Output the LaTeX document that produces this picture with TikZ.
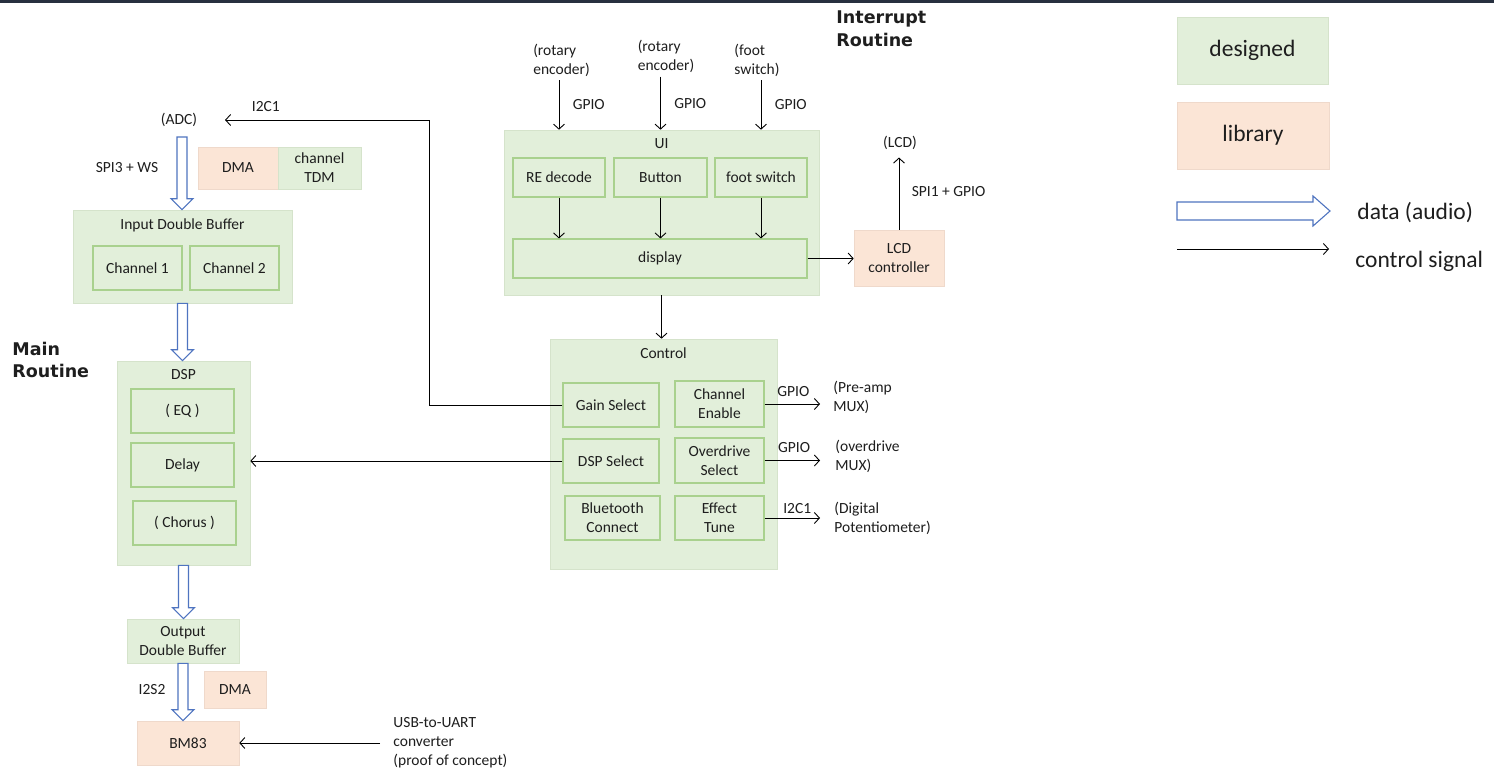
\documentclass[tikz,border=0pt]{standalone}
\usepackage{fontspec}
\setmainfont{Carlito}
\newfontfamily\headfont{DejaVu Sans}
\usetikzlibrary{arrows.meta,positioning,calc}
\definecolor{greenF}{HTML}{E2EFDA}
\definecolor{greenB}{HTML}{A9D18E}
\definecolor{greenO}{HTML}{D5E3CB}
\definecolor{peachF}{HTML}{FBE5D6}
\definecolor{peachB}{HTML}{EFD9CB}
\definecolor{dataBlue}{HTML}{4F74C0}
\definecolor{topbar}{HTML}{27303F}
\definecolor{ink}{HTML}{1E1E1E}

\newcommand{\audioflow}[2]{%
  \path[audio] let \p1=(#1), \p2=(#2) in
    (\x1-5pt,\y1) -- (\x1+5pt,\y1) -- (\x1+5pt,\y2+11pt) -- (\x1+11pt,\y2+11pt)
    -- (\x1,\y2) -- (\x1-11pt,\y2+11pt) -- (\x1-5pt,\y2+11pt) -- cycle;}

\begin{document}
\begin{tikzpicture}[->,auto,x=1pt,y=-1pt,line width=0.9pt,
  >={Straight Barb[length=5pt,width=11pt]},
  font=\fontsize{15.5}{19}\selectfont,text=ink,
  wh/.style 2 args={minimum width=#1pt,minimum height=#2pt},
  box/.style={fill=greenF,draw=greenO,line width=0.6pt,inner sep=0pt,align=center},
  part/.style={fill=greenF,draw=greenB,line width=1.1pt,inner sep=0pt,align=center},
  lib/.style={fill=peachF,draw=peachB,line width=0.6pt,inner sep=0pt,align=center},
  boxtitle/.style={label={[anchor=north,yshift=-5pt]north:#1}},
  routine/.style={font=\headfont\bfseries\fontsize{17.5}{22.5}\selectfont,align=left,anchor=west,inner sep=0pt},
  note/.style={align=left,anchor=west,inner sep=0pt},
  legendtext/.style={font=\fontsize{23.5}{28}\selectfont},
  audio/.style={arrows=-,draw=dataBlue,fill=white,line width=1.1pt,line join=miter}]

  \useasboundingbox (0,0) rectangle (1494,771);
  \fill[white] (0,0) rectangle (1494,771);
  \fill[topbar] (0,0) rectangle (1494,2.5);

  \node                                    (adc)    at (179,120)     {(ADC)};
  \node                                    (spi3)   at (127,168)     {SPI3 + WS};
  \node[lib,wh={80}{42}]                   (dma1)   at (238,168)     {DMA};
  \node[box,wh={83}{42}]                   (tdm)    at (319.5,168)   {channel\\TDM};
  \node[box,wh={219}{93},boxtitle=Input Double Buffer] (ibuf) at (182.5,256.5) {};
  \node[part,wh={89}{44}]                  (ch1)    at (137.5,268)   {Channel 1};
  \node[part,wh={89}{44}]                  (ch2)    at (234.5,268)   {Channel 2};
  \node[routine]                           (mainr)  at (12,360)      {Main\\Routine};
  \node[box,wh={133}{204},boxtitle=DSP]    (dsp)    at (183.5,463)   {};
  \node[part,wh={103}{44}]                 (eq)     at (182.5,411)   {( EQ )};
  \node[part,wh={103}{44}]                 (delay)  at (182.5,465)   {Delay};
  \node[part,wh={103}{44}]                 (chorus) at (184.5,523)   {( Chorus )};
  \node[box,wh={112}{44}]                  (obuf)   at (183,641)     {Output\\Double Buffer};
  \node                                    (i2s2)   at (152,690)     {I2S2};
  \node[lib,wh={62}{37}]                   (dma2)   at (235,689.5)   {DMA};
  \node[lib,wh={102}{44}]                  (bm)     at (188,743)     {BM83};
  \node[note]                              (usb)    at (393,743)     {USB-to-UART\\converter\\(proof of concept)};

  \node[routine]                           (intr)   at (836,28.5)    {Interrupt\\Routine};
  \node[align=left]                        (enc1)   at (561.5,60)    {(rotary\\encoder)};
  \node[align=left]                        (enc2)   at (666,56.5)    {(rotary\\encoder)};
  \node[align=left]                        (foot)   at (757,60)      {(foot\\switch)};
  \node[box,wh={315}{165},boxtitle=UI]     (ui)     at (661.5,212.5) {};
  \node[part,wh={92}{39}]                  (re)     at (559,177.5)   {RE decode};
  \node[part,wh={93}{39}]                  (btn)    at (660.5,177.5) {Button};
  \node[part,wh={92}{39}]                  (fsw)    at (761,177.5)   {foot switch};
  \node[part,wh={294}{39}]                 (disp)   at (660,258.5)   {display};
  \node[lib,wh={90}{56}]                   (lcdc)   at (899,258)     {LCD\\controller};
  \node                                    (lcd)    at (900,143)     {(LCD)};

  \node[box,wh={227}{230},boxtitle=Control] (ctrl)  at (663.5,454)   {};
  \node[part,wh={96}{44}]                  (gain)   at (611,405)     {Gain Select};
  \node[part,wh={89}{46}]                  (chen)   at (719.5,404)   {Channel\\Enable};
  \node[part,wh={96}{44}]                  (dsel)   at (611,461)     {DSP Select};
  \node[part,wh={89}{45}]                  (ods)    at (719.5,460.5) {Overdrive\\Select};
  \node[part,wh={95}{44}]                  (bt)     at (612.5,518)   {Bluetooth\\Connect};
  \node[part,wh={89}{44}]                  (eff)    at (719.5,518)   {Effect\\Tune};
  \node[note]                              (pre)    at (833,397.5)   {(Pre-amp\\MUX)};
  \node[note]                              (odmux)  at (835,456.5)   {(overdrive\\MUX)};
  \node[note]                              (pot)    at (834,518)     {(Digital\\Potentiometer)};

  \node[box,wh={151}{67},legendtext]       (kdes)   at (1252.5,50.5) {designed};
  \node[lib,wh={152}{67},legendtext]       (klib)   at (1253,135.5)  {library};
  \node[legendtext,note]                   (kdata)  at (1357,213)    {data (audio)};
  \node[legendtext,note]                   (kctl)   at (1355,261)    {control signal};

  \coordinate (adcout)  at (182,137);
  \coordinate (i2cbend) at (429,120);
  \coordinate (adcin)   at (225,120);
  \coordinate (k1) at (1177,211);
  \coordinate (k2) at (1330,211);
  \coordinate (k3) at (1177,249);
  \coordinate (k4) at (1329,249);

  \audioflow{adcout}{ibuf.north}
  \audioflow{ibuf.south}{dsp.north}
  \audioflow{dsp.south}{obuf.north}
  \audioflow{obuf.south}{bm.north}
  \path[audio] (k1) ++(0,-9) -- ++(136,0) -- ++(0,-6) -- (k2) -- ++(-17,15)
    -- ++(0,-6) -- ++(-136,0) -- cycle;

  \path (enc1.south -| re.north)  edge node[right=10pt] {GPIO} (re.north |- ui.north)
        (enc2.south -| btn.north) edge node[right=10pt] {GPIO} (btn.north |- ui.north)
        (foot.south -| fsw.north) edge node[right=10pt] {GPIO} (fsw.north |- ui.north)
        (re.south)   edge (re.south |- disp.north)
        (btn.south)  edge (btn.south |- disp.north)
        (fsw.south)  edge (fsw.south |- disp.north)
        (disp.east)  edge (disp.east -| lcdc.west)
        (lcdc.north) edge [shorten >=4pt] node[right=9pt] {SPI1 + GPIO} (lcdc.north |- lcd.south)
        (ui.south)   edge (ui.south |- ctrl.north)
        (chen.east)  edge [shorten >=13pt] node[above=4pt,pos=0.42] {GPIO} (chen.east -| pre.west)
        (ods.east)   edge [shorten >=15pt] node[above=4pt,pos=0.42] {GPIO} (ods.east -| odmux.west)
        (eff.east)   edge [shorten >=14pt] node[above=1pt,pos=0.47] {I2C1} (eff.east -| pot.west)
        (dsel.west)  edge (dsel.west -| dsp.east)
        (usb.west)   edge [shorten <=13pt] (usb.west -| bm.east)
        (k3)         edge (k4);

  \draw (gain.west) -| (i2cbend) -- node[above=5pt,pos=0.8] {I2C1} (adcin);
\end{tikzpicture}
\end{document}
